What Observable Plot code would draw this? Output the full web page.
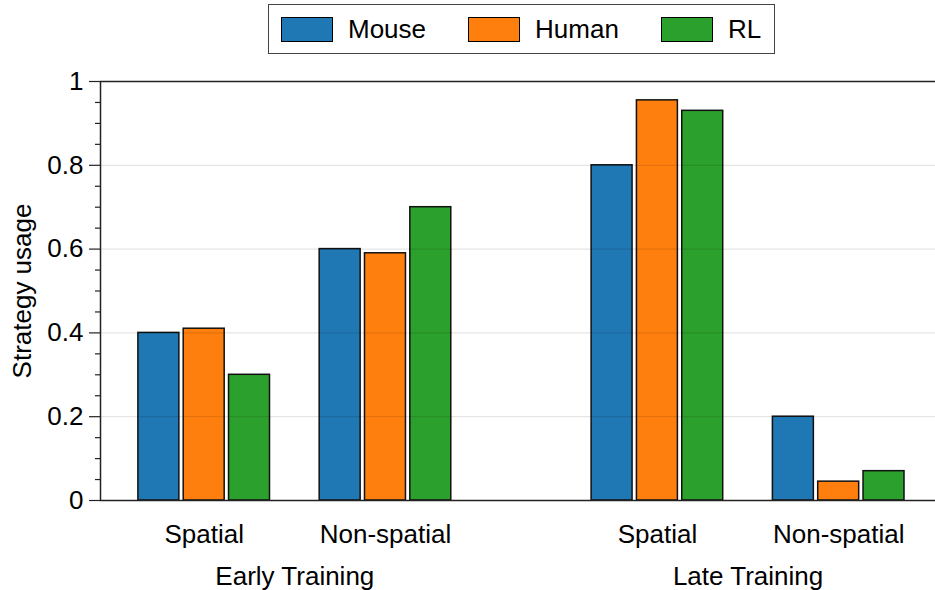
<!DOCTYPE html>
<html>
<head>
<meta charset="utf-8">
<script src="https://cdn.jsdelivr.net/npm/d3@7"></script>
<script src="https://cdn.jsdelivr.net/npm/@observablehq/plot@0.6"></script>
<style>
  html, body { margin: 0; padding: 0; background: #fff; }
  #wrap { position: relative; width: 935px; height: 590px; font-family: "Liberation Sans", Arial, sans-serif; }
  #legend { position: absolute; left: 268px; top: 4px; width: 493px; height: 48px; border: 1.5px solid #444; background: #fff;
            display: flex; align-items: center; padding-left: 12px; box-sizing: content-box; font-size: 26px; color: #000; }
  .item { display: flex; align-items: center; margin-right: 42px; }
  .item:last-child { margin-right: 0; }
  .patch { width: 50px; height: 23px; border: 1.5px solid #000; margin-right: 15px; }
</style>
</head>
<body>
<div id="wrap">
  <div id="chart"></div>
  <div id="legend"></div>
</div>
<script>
// ---- data ----
const phases = ["Early Training", "Late Training"];
const strategies = ["Spatial", "Non-spatial"];
const series = ["Mouse", "Human", "RL"];
const colors = ["#1f77b4", "#ff7f0e", "#2ca02c"];
// values per [phase][strategy] in series order Mouse, Human, RL
const earlySpatial = [0.40, 0.41, 0.30];
const earlyNonSpatial = [0.60, 0.59, 0.70];
const lateSpatial = [0.80, 0.955, 0.93];
const lateNonSpatial = [0.20, 0.045, 0.07];
const yTicks = [0, 0.2, 0.4, 0.6, 0.8, 1];

// ---- layout helpers ----
const groups = [
  {phase: 0, strategy: 0, values: earlySpatial},
  {phase: 0, strategy: 1, values: earlyNonSpatial},
  {phase: 1, strategy: 0, values: lateSpatial},
  {phase: 1, strategy: 1, values: lateNonSpatial}
];
const groupGap = 1.5;   // distance between phase blocks
const groupPos = g => g.phase * groupGap + g.phase + g.strategy;
const barStep = 0.25, barWidth = 0.226;
const rows = [];
groups.forEach(g => {
  g.values.forEach((v, i) => {
    const c = groupPos(g) + (i - 1) * barStep;
    rows.push({series: series[i], value: v, x1: c - barWidth / 2, x2: c + barWidth / 2});
  });
});
const stratTicks = groups.map(groupPos);
const stratLabels = new Map(groups.map(g => [groupPos(g), strategies[g.strategy]]));
const phaseTicks = phases.map((p, k) => (groupPos({phase: k, strategy: 0}) + groupPos({phase: k, strategy: 1})) / 2);
const phaseLabels = new Map(phaseTicks.map((t, k) => [t, phases[k]]));
const minorTicks = d3.range(0, 1.0001, 0.05).map(v => +v.toFixed(2)).filter(v => Math.abs(v * 5 - Math.round(v * 5)) > 1e-6);
const xDomain = [-0.572, 4.034];

const chart = Plot.plot({
  width: 935,
  height: 590,
  marginTop: 81,
  marginBottom: 90,
  marginLeft: 100,
  marginRight: 0,
  style: {fontFamily: "'Liberation Sans', Arial, sans-serif", fontSize: "26px", color: "#000", background: "#fff"},
  x: {type: "linear", domain: xDomain},
  y: {domain: [0, 1]},
  color: {domain: series, range: colors},
  marks: [
    Plot.rectY(rows, {x1: "x1", x2: "x2", y1: 0, y2: "value", fill: "series", stroke: "#111", strokeWidth: 1.5}),
    Plot.ruleY(yTicks.filter(v => v > 0 && v < 1), {stroke: "#000", strokeOpacity: 0.1, strokeWidth: 1.2}),
    Plot.ruleY([0, 1], {stroke: "#222", strokeWidth: 1.5}),
    Plot.ruleX([xDomain[0]], {stroke: "#222", strokeWidth: 1.5}),
    Plot.axisY({ticks: yTicks, tickSize: 11, tickPadding: 6, tickFormat: d3.format("~g"), label: null, stroke: "#222", strokeWidth: 1.2}),
    Plot.axisY({ticks: minorTicks, tickSize: 5, tickFormat: () => "", label: null, stroke: "#222", strokeWidth: 1.2}),
    Plot.text(["Strategy usage"], {frameAnchor: "left", textAnchor: "middle", dx: -78, rotate: -90, fontSize: 26}),
    Plot.axisX({ticks: stratTicks, tickSize: 0, tickPadding: 24, tickFormat: d => stratLabels.get(d), label: null}),
    Plot.axisX({ticks: phaseTicks, tickSize: 0, tickPadding: 66, tickFormat: d => phaseLabels.get(d), label: null})
  ]
});
document.getElementById("chart").appendChild(chart);

// legend
const legend = document.getElementById("legend");
series.forEach((s, i) => {
  const item = document.createElement("div");
  item.className = "item";
  const p = document.createElement("div");
  p.className = "patch";
  p.style.background = colors[i];
  const t = document.createElement("span");
  t.textContent = s;
  item.appendChild(p);
  item.appendChild(t);
  legend.appendChild(item);
});
</script>
</body>
</html>
